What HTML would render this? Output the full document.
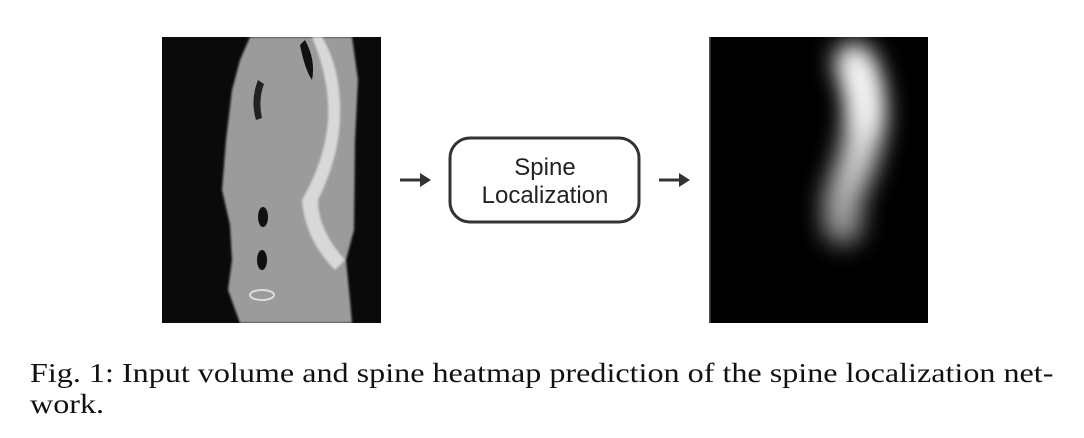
<!DOCTYPE html>
<html><head><meta charset="utf-8"><style>
body{margin:0;background:#fff;width:1084px;height:438px;overflow:hidden;position:relative}
.cap{position:absolute;left:30px;font-family:"Liberation Serif",serif;font-size:27px;color:#111;white-space:nowrap;transform-origin:0 0;transform:scaleX(1.19)}
</style></head><body>
<svg width="1084" height="438" style="position:absolute;left:0;top:0">
<defs>
<filter id="b1" filterUnits="userSpaceOnUse" x="700" y="0" width="240" height="340"><feGaussianBlur stdDeviation="12"/></filter>
<filter id="b0"><feGaussianBlur stdDeviation="1"/></filter>
<clipPath id="cl"><rect x="162" y="37" width="219" height="286"/></clipPath>
<clipPath id="cr"><rect x="709" y="37" width="219" height="286"/></clipPath>
<linearGradient id="hg" gradientUnits="userSpaceOnUse" x1="0" y1="50" x2="0" y2="240"><stop offset="0" stop-color="#fff"/><stop offset="0.5" stop-color="#ddd"/><stop offset="1" stop-color="#888"/></linearGradient>
</defs>
<g clip-path="url(#cl)">
<rect x="162" y="37" width="219" height="286" fill="#0a0a0a"/>
<path d="M250 37 L240 60 L232 90 L226 140 L222 190 L230 225 L232 260 L228 290 L240 323 L352 323 L350 300 L346 260 L354 230 L355 140 L358 80 L352 37 Z" fill="#9b9b9b" filter="url(#b0)"/>
<path d="M312 37 Q330 80 328 120 Q325 160 302 200 Q305 240 335 270 L345 260 Q318 230 318 200 Q338 160 340 120 Q342 70 322 37 Z" fill="#d8d8d8" filter="url(#b0)"/>
<path d="M305 40 Q316 60 312 80 Q305 70 300 45 Z" fill="#111"/>
<path d="M258 80 Q250 100 256 120 L262 118 Q258 100 264 84 Z" fill="#222"/>
<ellipse cx="263" cy="217" rx="5" ry="10" fill="#111"/>
<ellipse cx="262" cy="260" rx="5" ry="10" fill="#111"/>
<ellipse cx="262" cy="295" rx="12" ry="5" fill="none" stroke="#ddd" stroke-width="2"/>
</g>
<g><line x1="400" y1="180" x2="422" y2="180" stroke="#333" stroke-width="3"/><polygon points="420,173 431,180 420,187" fill="#333"/></g>
<rect x="450" y="138" width="189" height="84" rx="20" fill="#fff" stroke="#333" stroke-width="3"/>
<text x="545" y="175" text-anchor="middle" font-family="Liberation Sans,sans-serif" font-size="24" fill="#222">Spine</text>
<text x="545" y="203" text-anchor="middle" font-family="Liberation Sans,sans-serif" font-size="24" fill="#222">Localization</text>
<g><line x1="659" y1="180" x2="681" y2="180" stroke="#333" stroke-width="3"/><polygon points="679,173 690,180 679,187" fill="#333"/></g>
<g clip-path="url(#cr)">
<rect x="709" y="37" width="219" height="286" fill="#000"/>
<rect x="709" y="37" width="1.5" height="286" fill="#555"/>
<path d="M854 62 Q866 85 866 115 Q864 150 846 190 Q840 210 843 226" fill="none" stroke="url(#hg)" stroke-width="38" stroke-linecap="round" filter="url(#b1)"/>
<path d="M857 72 Q866 95 864 125" fill="none" stroke="#fff" stroke-width="16" stroke-linecap="round" filter="url(#b1)"/>
</g>
</svg>
<div class="cap" style="top:358px">Fig. 1: Input volume and spine heatmap prediction of the spine localization net-</div>
<div class="cap" style="top:389px">work.</div>
</body></html>
